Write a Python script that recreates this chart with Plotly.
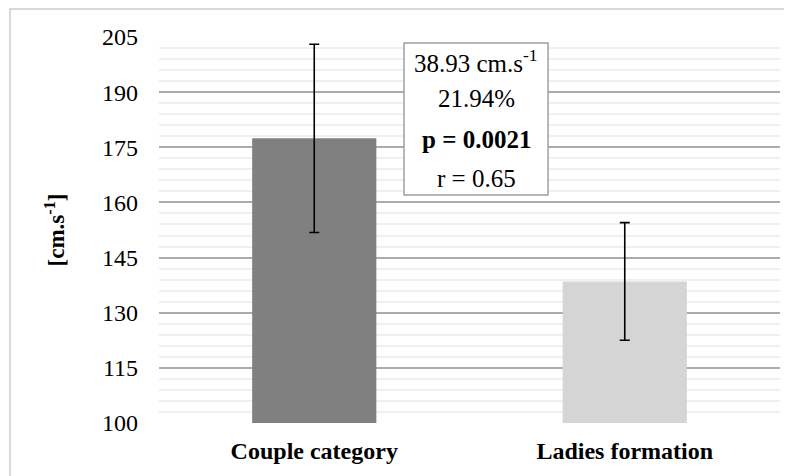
import plotly.graph_objects as go

categories = ["Couple category", "Ladies formation"]
means = [177.43, 138.50]
sds = [25.6, 16.0]
bar_colors = ["#808080", "#d6d5d6"]
y_ticks = [100, 115, 130, 145, 160, 175, 190, 205]
box_lines = ["38.93 cm.s<sup>-1</sup>", "21.94%", "<b>p = 0.0021</b>", "r = 0.65"]
box_line_y = [198.6, 188.4, 177.0, 166.6]

FONT = "Liberation Serif"

fig = go.Figure()
fig.add_trace(go.Bar(
    x=categories, y=[m - 100 for m in means], base=100,
    marker=dict(color=bar_colors, line=dict(width=0)),
    width=0.4,
    error_y=dict(type="data", array=sds, visible=True, color="black", thickness=1.6, width=5),
    hoverinfo="skip",
))

# page body adds an 8px offset; margins compensate so the plot lands at the reference position
fig.update_layout(
    width=792, height=476,
    margin=dict(l=151, r=20, t=29, b=61),
    paper_bgcolor="white", plot_bgcolor="white",
    showlegend=False,
    font=dict(family=FONT, color="black", size=23),
)
fig.update_yaxes(
    range=[100, 205], tickvals=y_ticks, ticktext=[str(v) for v in y_ticks],
    showgrid=True, gridcolor="#ababab", gridwidth=1.5,
    minor=dict(dtick=3, tick0=100, showgrid=True, gridcolor="#efefef", gridwidth=1.5),
    zeroline=False, showline=False, automargin=False,
    tickfont=dict(family=FONT, size=24, color="black"),
    ticklabelstandoff=20,
    title=dict(text="<b>[cm.s<sup>-1</sup>]</b>", font=dict(family=FONT, size=23, color="black"), standoff=30),
)
fig.update_xaxes(
    showgrid=False, showline=False, zeroline=False, automargin=False,
    tickfont=dict(family=FONT, size=24, color="black"),
    tickprefix="<b>", ticksuffix="</b>",
    ticklabelstandoff=11,
)

# annotation box
fig.add_shape(type="rect", xref="x", yref="y", x0=0.289, x1=0.753, y0=162.0, y1=203.37,
              line=dict(color="#a0a0a0", width=1.5), fillcolor="white", layer="above")
for txt, yy in zip(box_lines, box_line_y):
    fig.add_annotation(x=0.521, y=yy, xref="x", yref="y", text=txt, showarrow=False,
                       font=dict(family=FONT, size=25, color="black"))

# outer chart frame (extends past the right and bottom edges as in the reference)
fig.add_shape(type="rect", xref="paper", yref="paper",
              x0=-149/621, x1=1.1, y0=-0.3, y1=1 + 28/386,
              line=dict(color="#d9d9d9", width=2), layer="below")

fig.write_html("out.html")
